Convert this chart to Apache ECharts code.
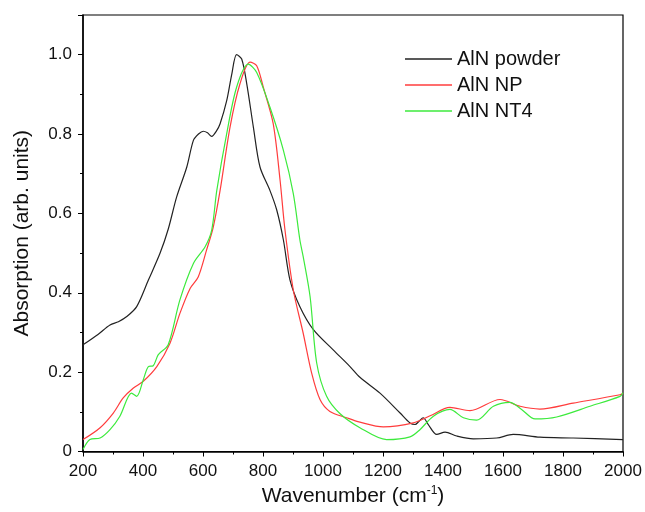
<!DOCTYPE html>
<html lang="en">
<head>
    <meta charset="utf-8">
    <title>AlN absorption</title>
    <script src="https://cdn.jsdelivr.net/npm/echarts@6/dist/echarts.min.js"></script>
</head>
<body style="margin:0; background:#fff;">
<div id="main" style="width: 645px; height: 512px;"></div>
<script type="text/javascript">
    // [wavenumber, absorption]
    const powder = [[200,0.269],[250,0.295],[290,0.319],[318,0.327],[346,0.340],[379,0.365],[418,0.432],[457,0.500],[484,0.560],[512,0.641],[546,0.717],[568,0.784],[585,0.800],[601,0.807],[615,0.803],[629,0.794],[645,0.808],[657,0.826],[679,0.884],[696,0.951],[712,1.0],[729,0.989],[746,0.926],[768,0.817],[790,0.717],[823,0.658],[846,0.608],[868,0.533],[890,0.432],[923,0.365],[968,0.307],[1034,0.256],[1090,0.214],[1123,0.187],[1190,0.147],[1257,0.097],[1290,0.072],[1307,0.068],[1320,0.076],[1334,0.085],[1351,0.068],[1379,0.043],[1407,0.049],[1446,0.039],[1501,0.032],[1579,0.034],[1634,0.043],[1723,0.036],[1834,0.034],[2000,0.030]];
    const np = [[200,0.030],[257,0.060],[301,0.097],[334,0.135],[368,0.160],[401,0.177],[446,0.214],[490,0.273],[523,0.348],[557,0.411],[584,0.440],[612,0.508],[634,0.565],[657,0.658],[690,0.817],[723,0.926],[757,0.981],[779,0.972],[801,0.918],[834,0.826],[857,0.683],[873,0.560],[901,0.407],[934,0.298],[962,0.198],[990,0.131],[1023,0.101],[1079,0.085],[1123,0.074],[1201,0.062],[1301,0.072],[1357,0.090],[1423,0.111],[1490,0.103],[1590,0.131],[1657,0.114],[1723,0.107],[1834,0.122],[1990,0.143],[2000,0.147]];
    const nt4 = [[200,0.005],[223,0.030],[257,0.034],[290,0.055],[323,0.089],[362,0.147],[379,0.139],[401,0.181],[418,0.214],[434,0.216],[451,0.244],[484,0.269],[523,0.382],[568,0.474],[607,0.516],[629,0.558],[646,0.658],[679,0.801],[712,0.918],[751,0.976],[779,0.955],[823,0.868],[868,0.759],[901,0.650],[923,0.533],[934,0.491],[957,0.390],[979,0.223],[1012,0.139],[1057,0.095],[1123,0.060],[1212,0.030],[1290,0.037],[1323,0.055],[1368,0.089],[1423,0.106],[1468,0.085],[1512,0.079],[1568,0.114],[1623,0.124],[1662,0.106],[1707,0.082],[1779,0.087],[1890,0.114],[1990,0.139],[2000,0.148]];
    const seriesNames = ['AlN powder', 'AlN NP', 'AlN NT4'];
    const seriesColors = ['#222222', '#ff3c3c', '#3cea3c'];

    const font = 'Liberation Sans, Arial, sans-serif';
    let myChart = echarts.init(document.getElementById('main'));
    const option = {
        animation: false,
        grid: {
            left: 83, right: 22, top: 15, bottom: 60,
            show: true, borderColor: '#000', borderWidth: 1.2
        },
        legend: {
            orient: 'vertical',
            left: 400, top: 44,
            icon: 'rect',
            itemWidth: 47, itemHeight: 1.5, itemGap: 6,
            textStyle: {fontFamily: font, fontSize: 20, color: '#111', lineHeight: 20},
            data: seriesNames
        },
        xAxis: {
            type: 'value', min: 200, max: 2000, interval: 200,
            name: 'Wavenumber (cm{sup|-1})',
            nameLocation: 'middle', nameGap: 33,
            nameTextStyle: {
                fontFamily: font, fontSize: 21, color: '#111',
                rich: {sup: {fontFamily: font, fontSize: 12, color: '#111', padding: [0, 0, 12, 0]}}
            },
            axisLine: {lineStyle: {color: '#000', width: 1.5}},
            axisTick: {inside: false, length: 5, lineStyle: {color: '#000'}},
            minorTick: {show: true, splitNumber: 2, length: 3, lineStyle: {color: '#000'}},
            splitLine: {show: false},
            axisLabel: {
                fontFamily: font, fontSize: 17, color: '#111', margin: 11,
                formatter: function (v) { return String(v); }
            }
        },
        yAxis: {
            type: 'value', min: 0, max: 1.1, interval: 0.2,
            name: 'Absorption (arb. units)',
            nameLocation: 'middle', nameGap: 50,
            nameTextStyle: {fontFamily: font, fontSize: 21, color: '#111'},
            axisLine: {show: true, lineStyle: {color: '#000', width: 1.5}},
            axisTick: {show: true, inside: false, length: 5, lineStyle: {color: '#000'}},
            minorTick: {show: true, splitNumber: 2, length: 3, lineStyle: {color: '#000'}},
            splitLine: {show: false},
            axisLabel: {
                fontFamily: font, fontSize: 17, color: '#111', margin: 11,
                formatter: function (v) { return v > 1.05 ? '' : (v === 0 ? '0' : v.toFixed(1)); }
            }
        },
        series: [powder, np, nt4].map(function (d, i) {
            return {
                name: seriesNames[i], type: 'line', data: d,
                smooth: 0.3, symbol: 'none',
                lineStyle: {color: seriesColors[i], width: 1.2},
                itemStyle: {color: seriesColors[i]}
            };
        })
    };
    myChart.setOption(option);
</script>
</body>
</html>
